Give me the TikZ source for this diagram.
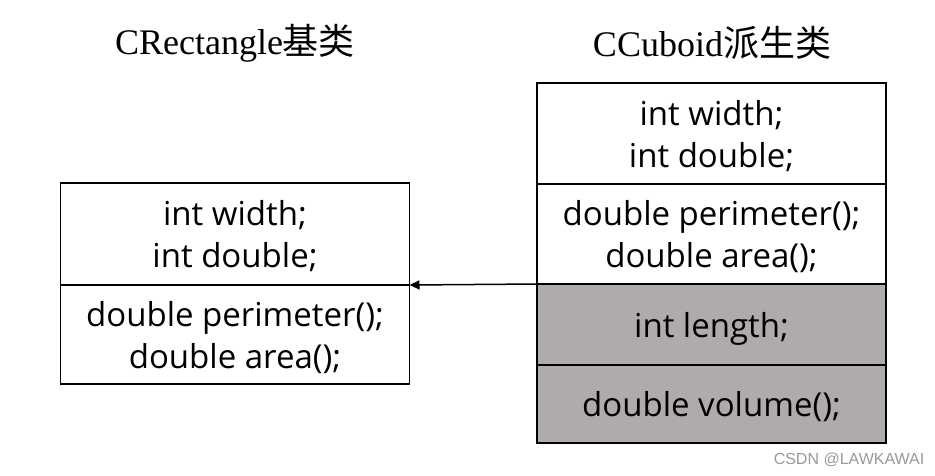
\documentclass[tikz,border=0pt]{standalone}
\usepackage{fontspec}
\setmainfont{Liberation Serif}
\newfontfamily\cjk{Noto Sans CJK SC}
\newfontfamily\bodyfont{Open Sans}
\newfontfamily\markfont{Liberation Sans}
\usetikzlibrary{positioning}
\usetikzlibrary{arrows.meta}

\tikzset{
  member/.style={draw,line width=1.5pt,outer sep=0pt,minimum width=349pt,align=center,
    text depth=0pt,font=\bodyfont\fontsize{33}{42}\selectfont},
  added/.style={member,fill=addgray},
  title/.style={font=\fontsize{36}{40}\selectfont}
}
\definecolor{addgray}{RGB}{175,171,171}

\begin{document}
\begin{tikzpicture}[x=1pt,y=-1pt]
 \useasboundingbox (0,0) rectangle (935,475);
 % base class
 \node[title] (lname) at (235,43) {CRectangle{\cjk 基类}};
 \node[member,minimum height=102pt,anchor=north west] (lattr) at (60.5,183) {int width;\\int double;};
 \node[member,minimum height=99pt,below=0pt of lattr] (lfunc) {double perimeter();\\double area();};
 % derived class
 \node[title] (rname) at (712,43) {CCuboid{\cjk 派生类}};
 \node[member,minimum height=101pt,anchor=north west] (rattr) at (537,83) {int width;\\int double;};
 \node[member,minimum height=100pt,below=0pt of rattr] (rfunc) {double perimeter();\\double area();};
 \node[added,minimum height=81pt,below=0pt of rfunc] (rlen) {int length;};
 \node[added,minimum height=78pt,below=0pt of rlen] (rvol) {double volume();};
 % inheritance
 \draw[line width=1.5pt,-{Triangle[length=10pt,width=9pt]}] (rfunc.south west) -- (lattr.south east);
 \node[font=\markfont\fontsize{16}{18}\selectfont,text=gray!80] (mark) at (849,460) {CSDN @LAWKAWAI};
\end{tikzpicture}
\end{document}
